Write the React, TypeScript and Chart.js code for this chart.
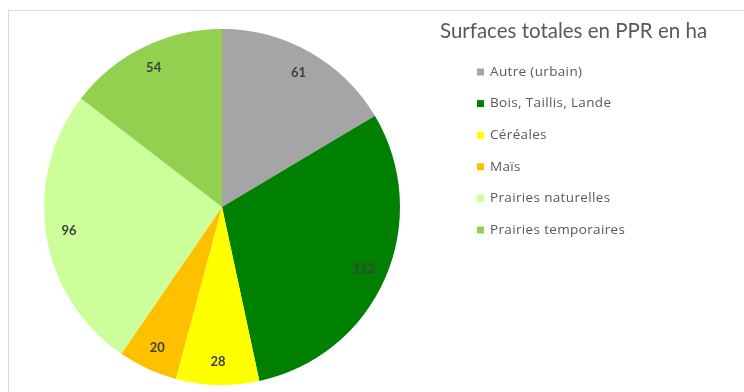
import React, { useEffect, useRef } from "react";
import { Chart, registerables } from "chart.js";

Chart.register(...registerables);

const categories = [
  "Autre (urbain)",
  "Bois, Taillis, Lande",
  "Céréales",
  "Maïs",
  "Prairies naturelles",
  "Prairies temporaires",
];
const values = [61, 112, 28, 20, 96, 54];
const colors = ["#A5A5A5", "#008000", "#FFFF00", "#FFC000", "#CCFF99", "#92D050"];
const chartTitle = "Surfaces totales en PPR en ha";

const FONT = "Lato, 'Open Sans', sans-serif";
const LEGEND_FONT = "'Open Sans', Lato, sans-serif";

const labelPlugin = {
  id: "sliceLabels",
  afterDatasetsDraw(chart: any) {
    const ctx = chart.ctx;
    const meta = chart.getDatasetMeta(0);
    const data = chart.data.datasets[0].data;
    ctx.save();
    ctx.font = `bold 13px ${FONT}`;
    ctx.fillStyle = "#404040";
    ctx.textAlign = "center";
    ctx.textBaseline = "middle";
    meta.data.forEach((arc: any, i: number) => {
      const p = arc.getProps(["x", "y", "startAngle", "endAngle", "outerRadius"], true);
      const mid = (p.startAngle + p.endAngle) / 2;
      const r = p.outerRadius * 0.87;
      ctx.fillText(String(data[i]), p.x + Math.cos(mid) * r, p.y + Math.sin(mid) * r);
    });
    ctx.restore();
  },
};

const legendPlugin = {
  id: "customLegend",
  afterDraw(chart: any) {
    const ctx = chart.ctx;
    ctx.save();
    ctx.fillStyle = "#595959";
    ctx.font = `20.5px ${FONT}`;
    ctx.textAlign = "left";
    ctx.textBaseline = "middle";
    ctx.fillText(chartTitle, 440, 31);
    ctx.font = `13.5px ${LEGEND_FONT}`;
    try {
      (ctx as any).letterSpacing = "0.35px";
    } catch (e) {}
    const labels = chart.data.labels;
    const bg = chart.data.datasets[0].backgroundColor;
    labels.forEach((lab: string, i: number) => {
      const y = 72 + i * 31.6;
      ctx.fillStyle = bg[i];
      ctx.fillRect(477, y - 3.5, 7, 7);
      ctx.fillStyle = "#595959";
      ctx.fillText(lab, 490, y);
    });
    ctx.restore();
  },
};

export default function App() {
  const ref = useRef<HTMLCanvasElement | null>(null);
  useEffect(() => {
    if (!ref.current) return;
    const chart = new Chart(ref.current, {
      type: "pie",
      data: {
        labels: categories,
        datasets: [
          {
            data: values,
            backgroundColor: colors,
            borderWidth: 0,
          },
        ],
      },
      options: {
        animation: false,
        responsive: true,
        maintainAspectRatio: false,
        layout: { padding: { left: 44, right: 344, top: 29, bottom: 7 } },
        plugins: {
          legend: { display: false },
          tooltip: { enabled: false },
          title: { display: false },
        },
      },
      plugins: [labelPlugin, legendPlugin],
    });
    return () => chart.destroy();
  }, []);

  return (
    <div
      style={{
        position: "fixed",
        left: 0,
        top: 0,
        width: 744,
        height: 392,
        overflow: "hidden",
        background: "#fff",
      }}
    >
      <div
        style={{
          position: "absolute",
          left: 8,
          top: 10,
          width: 760,
          height: 400,
          border: "1px solid #D9D9D9",
        }}
      />
      <div style={{ position: "absolute", left: 0, top: 0, width: 744, height: 392 }}>
        <canvas ref={ref} />
      </div>
    </div>
  );
}
